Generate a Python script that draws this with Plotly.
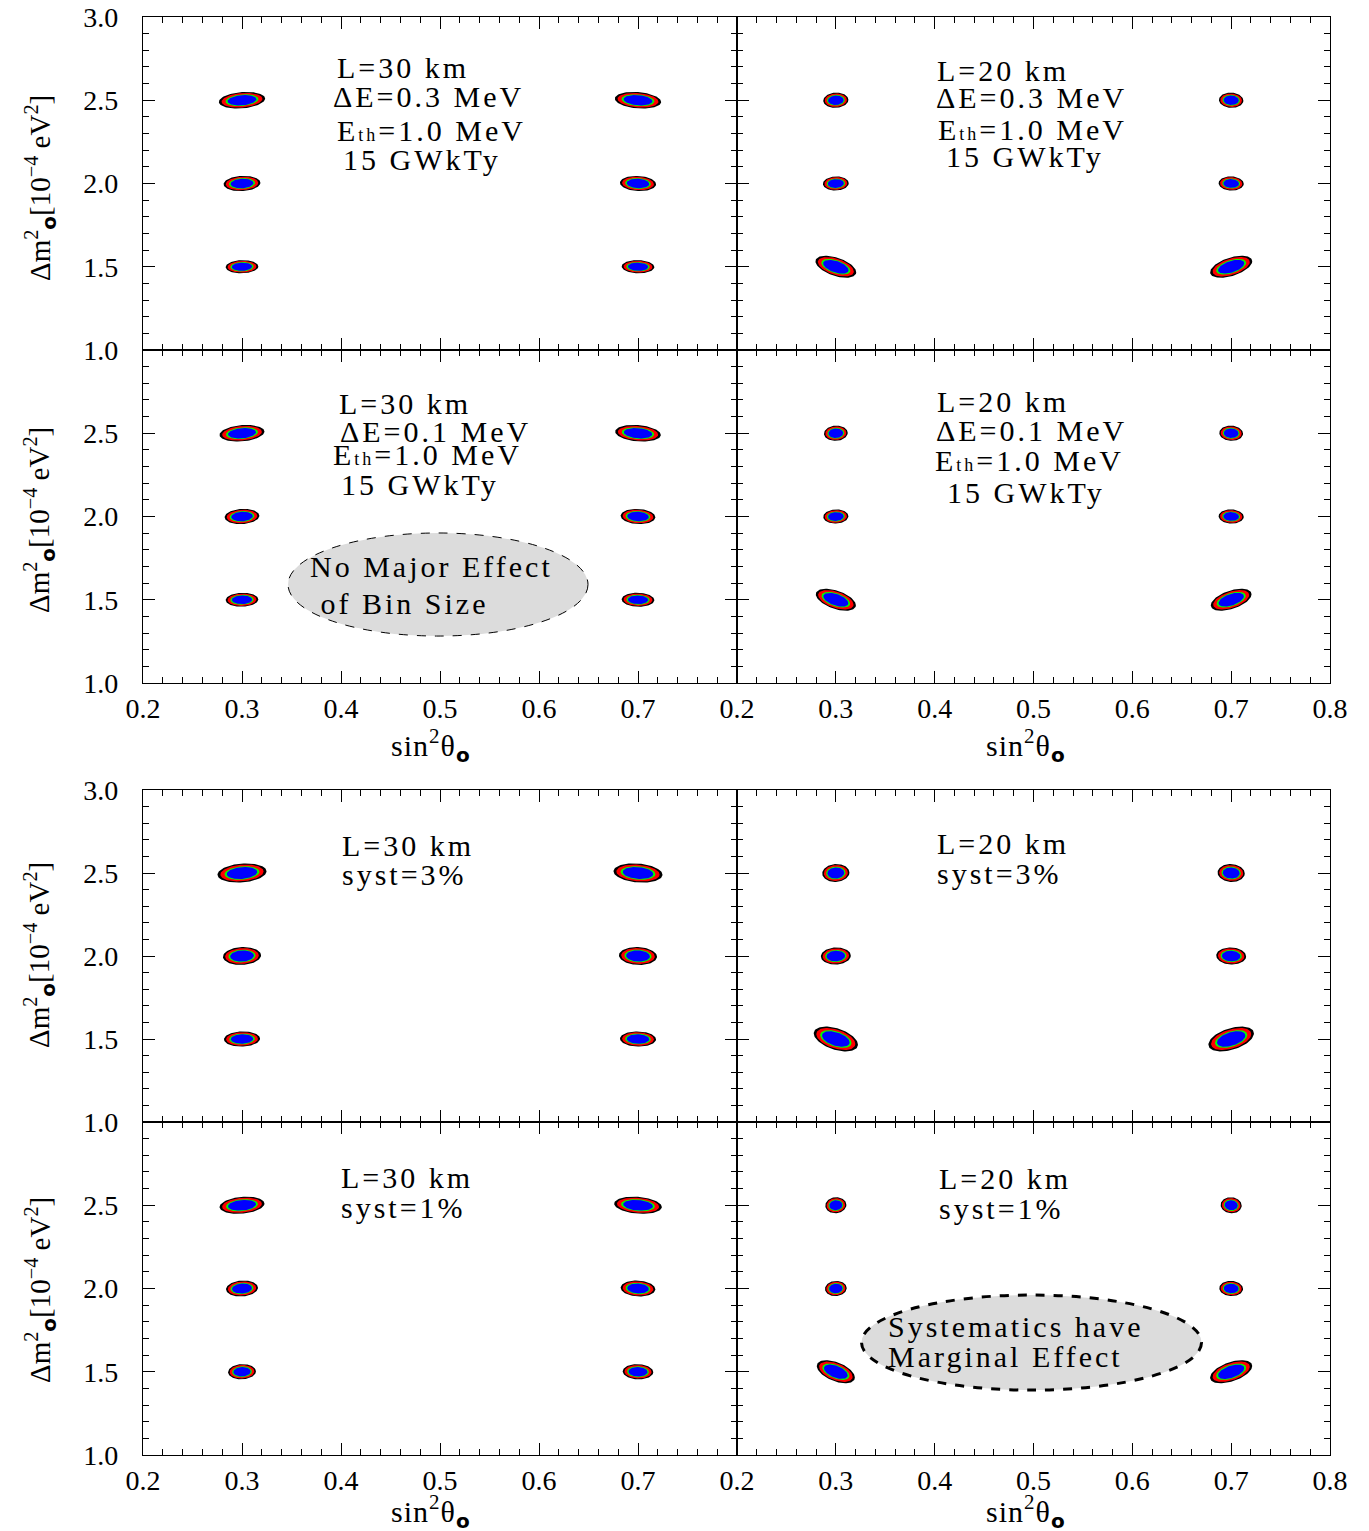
import numpy as np
import plotly.graph_objects as go

# ---------------------------------------------------------------------------
# Data
# ---------------------------------------------------------------------------
# true oscillation points used in the simulated fits
SIN2_TRUE = [0.3, 0.7]
DM2_TRUE = [1.5, 2.0, 2.5]

# 2-parameter Delta chi^2 for 99.73%, 99%, 95%, 90% C.L. (outer -> inner)
DCHI2 = [11.83, 9.21, 5.99, 4.61]
CL_COLORS = ["#000000", "#ff0000", "#00ff00", "#0000ff"]

# 1-sigma errors on sin^2(theta) and dm^2 (1e-4 eV^2) and their correlation
# rows: dm^2 = 1.5, 2.0, 2.5 ; columns: sin^2 = 0.3, 0.7
SX_L30_DE03 = [[0.0048, 0.0048], [0.0054, 0.0053], [0.0068, 0.0068]]
SY_L30_DE03 = [[0.0115, 0.0115], [0.0133, 0.0133], [0.0145, 0.0145]]
RHO_L30_DE03 = [[0.05, -0.05], [0.10, -0.10], [0.20, -0.20]]

SX_L20_DE03 = [[0.0060, 0.0062], [0.0038, 0.0037], [0.0037, 0.0036]]
SY_L20_DE03 = [[0.0192, 0.0192], [0.0124, 0.0124], [0.0133, 0.0133]]
RHO_L20_DE03 = [[-0.50, 0.50], [0.05, -0.05], [0.05, -0.05]]

SX_L30_DE01 = [[0.0048, 0.0048], [0.0051, 0.0051], [0.0066, 0.0067]]
SY_L30_DE01 = [[0.0122, 0.0122], [0.0133, 0.0133], [0.0145, 0.0145]]
RHO_L30_DE01 = [[0.05, -0.05], [0.10, -0.10], [0.20, -0.20]]

SX_L20_DE01 = [[0.0059, 0.0060], [0.0037, 0.0037], [0.0035, 0.0035]]
SY_L20_DE01 = [[0.0192, 0.0192], [0.0124, 0.0124], [0.0133, 0.0133]]
RHO_L20_DE01 = [[-0.50, 0.50], [0.05, -0.05], [0.05, -0.05]]

SX_L30_S3 = [[0.0053, 0.0053], [0.0056, 0.0056], [0.0072, 0.0072]]
SY_L30_S3 = [[0.0133, 0.0133], [0.0157, 0.0157], [0.0168, 0.0168]]
RHO_L30_S3 = [[0.05, -0.05], [0.08, -0.08], [0.18, -0.18]]

SX_L20_S3 = [[0.0065, 0.0067], [0.0044, 0.0044], [0.0040, 0.0040]]
SY_L20_S3 = [[0.0218, 0.0218], [0.0150, 0.0150], [0.0157, 0.0157]]
RHO_L20_S3 = [[-0.45, 0.45], [0.05, -0.05], [0.05, -0.05]]

SX_L30_S1 = [[0.0041, 0.0045], [0.0047, 0.0051], [0.0066, 0.0070]]
SY_L30_S1 = [[0.0133, 0.0133], [0.0140, 0.0140], [0.0150, 0.0150]]
RHO_L30_S1 = [[0.05, -0.05], [0.10, -0.10], [0.20, -0.20]]

SX_L20_S1 = [[0.0056, 0.0062], [0.0032, 0.0035], [0.0031, 0.0031]]
SY_L20_S1 = [[0.0201, 0.0201], [0.0133, 0.0133], [0.0140, 0.0140]]
RHO_L20_S1 = [[-0.50, 0.50], [0.05, -0.05], [0.05, -0.05]]

PANEL_FITS = [
    (SX_L30_DE03, SY_L30_DE03, RHO_L30_DE03),
    (SX_L20_DE03, SY_L20_DE03, RHO_L20_DE03),
    (SX_L30_DE01, SY_L30_DE01, RHO_L30_DE01),
    (SX_L20_DE01, SY_L20_DE01, RHO_L20_DE01),
    (SX_L30_S3, SY_L30_S3, RHO_L30_S3),
    (SX_L20_S3, SY_L20_S3, RHO_L20_S3),
    (SX_L30_S1, SY_L30_S1, RHO_L30_S1),
    (SX_L20_S1, SY_L20_S1, RHO_L20_S1),
]

ETH = 'E<span style="font-size:18px">th</span>=1.0 MeV'
PANEL_LABELS = [
    ["L=30 km", "ΔE=0.3 MeV", ETH, "15 GWkTy"],
    ["L=20 km", "ΔE=0.3 MeV", ETH, "15 GWkTy"],
    ["L=30 km", "ΔE=0.1 MeV", ETH, "15 GWkTy"],
    ["L=20 km", "ΔE=0.1 MeV", ETH, "15 GWkTy"],
    ["L=30 km", "syst=3%"],
    ["L=20 km", "syst=3%"],
    ["L=30 km", "syst=1%"],
    ["L=20 km", "syst=1%"],
]

X_TICKS = [0.2, 0.3, 0.4, 0.5, 0.6, 0.7, 0.8]
Y_TICKS = [1.0, 1.5, 2.0, 2.5, 3.0]

# ---------------------------------------------------------------------------
# Figure geometry
# ---------------------------------------------------------------------------
W, H = 1369, 1531
SERIF = "Liberation Serif"
TXT_STYLE = "letter-spacing:3px"


def px_x(p):
    return p / W


def px_y(p):
    return 1 - p / H


COL_DOMAINS = [[px_x(143), px_x(737)], [px_x(737), px_x(1330)]]
ROW_DOMAINS = [[px_y(350), px_y(17)], [px_y(683), px_y(350)],
               [px_y(1122), px_y(790)], [px_y(1455), px_y(1122)]]

fig = go.Figure()

t = np.linspace(0, 2 * np.pi, 97)
for k, (sx_tab, sy_tab, rho_tab) in enumerate(PANEL_FITS):
    ax = "" if k == 0 else str(k + 1)
    for lvl, col in zip(DCHI2, CL_COLORS):
        r = np.sqrt(lvl)
        xs, ys = [], []
        for i, dm2 in enumerate(DM2_TRUE):
            for j, s2 in enumerate(SIN2_TRUE):
                sx, sy, rho = sx_tab[i][j], sy_tab[i][j], rho_tab[i][j]
                ex = s2 + r * sx * np.cos(t)
                ey = dm2 + r * sy * (rho * np.cos(t) + np.sqrt(1 - rho ** 2) * np.sin(t))
                xs += list(ex) + [None]
                ys += list(ey) + [None]
        fig.add_trace(go.Scatter(
            x=xs, y=ys, mode="lines", fill="toself", fillcolor=col,
            line=dict(width=0, color=col), hoverinfo="skip", showlegend=False,
            xaxis="x" + ax, yaxis="y" + ax,
        ))

layout = {}
for k in range(8):
    row, colm = divmod(k, 2)
    ax = "" if k == 0 else str(k + 1)
    show_x = row in (1, 3)
    show_y = colm == 0
    xtext = [f"{v:.1f}" for v in X_TICKS]
    if colm == 0:
        xtext[-1] = ""
    ytext = [f"{v:.1f}" for v in Y_TICKS]
    if row in (1, 3):
        ytext[-1] = ""
    common = dict(
        showline=True, linecolor="black", linewidth=1.3, mirror="allticks",
        ticks="inside", ticklen=12, tickwidth=1.3, tickcolor="black",
        showgrid=False, zeroline=False, automargin=False,
        tickfont=dict(family=SERIF, size=28, color="black"),
        tickmode="array",
    )
    layout["xaxis" + ax] = dict(
        common, domain=COL_DOMAINS[colm], range=[0.2, 0.8], anchor="y" + ax,
        tickvals=X_TICKS, ticktext=xtext, showticklabels=show_x,
        ticklabelstandoff=0,
        minor=dict(ticks="inside", ticklen=6, tickwidth=1, tickcolor="black",
                   tickmode="array", tickvals=list(np.round(np.arange(0.2, 0.801, 0.02), 2)),
                   showgrid=False),
    )
    layout["yaxis" + ax] = dict(
        common, domain=ROW_DOMAINS[row], range=[1.0, 3.0], anchor="x" + ax,
        tickvals=Y_TICKS, ticktext=ytext, showticklabels=show_y,
        ticklabelstandoff=18,
        minor=dict(ticks="inside", ticklen=6, tickwidth=1, tickcolor="black",
                   tickmode="array", tickvals=list(np.round(np.arange(1.0, 3.001, 0.1), 2)),
                   showgrid=False),
    )

annotations = []

# text block positions (left edge px, centre-line px) per panel
LABEL_POS = [
    [(335, 67), (331, 96), (335, 131), (341, 159)],
    [(935, 70), (934, 98), (936, 129), (944, 157)],
    [(337, 404), (338, 432), (331, 455), (339, 485)],
    [(935, 402), (934, 431), (933, 461), (945, 492)],
    [(340, 845), (340, 874)],
    [(935, 843), (935, 873)],
    [(339, 1177), (339, 1207)],
    [(937, 1178), (937, 1208)],
]
for lines, pos in zip(PANEL_LABELS, LABEL_POS):
    for txt, (px, py) in zip(lines, pos):
        annotations.append(dict(
            text=f'<span style="{TXT_STYLE}">{txt}</span>',
            xref="paper", yref="paper", x=px_x(px), y=px_y(py),
            xanchor="left", yanchor="middle", showarrow=False,
            font=dict(family=SERIF, size=30, color="black"),
        ))

SUB_O = ('<sub><span style="font-family:\'DejaVu Sans\';font-weight:bold;font-size:20px">'
         'o</span></sub>')
XTITLE = '<span style="letter-spacing:1px">sin<sup>2</sup>θ</span>' + SUB_O
YTITLE = 'Δm<sup>2</sup>' + SUB_O + '[10<sup>−4</sup> eV<sup>2</sup>]'
for cx in (430, 1025):
    for cy in (745, 1511):
        annotations.append(dict(
            text=XTITLE, xref="paper", yref="paper", x=px_x(cx), y=px_y(cy),
            xanchor="center", yanchor="middle", showarrow=False,
            font=dict(family=SERIF, size=30, color="black"),
        ))
for cy in (188, 520, 955, 1290):
    annotations.append(dict(
        text=YTITLE, xref="paper", yref="paper", x=px_x(40), y=px_y(cy),
        xanchor="center", yanchor="middle", showarrow=False, textangle=-90,
        font=dict(family=SERIF, size=29, color="black"),
    ))

# call-out ovals
shapes = [
    dict(type="circle", xref="x3", yref="y3", x0=0.3465, x1=0.6495, y0=1.282, y1=1.901,
         fillcolor="#dcdcdc", line=dict(color="black", width=1, dash="dash"), layer="below"),
    dict(type="circle", xref="x8", yref="y8", x0=0.326, x1=0.670, y0=1.390, y1=1.961,
         fillcolor="#dcdcdc", line=dict(color="black", width=3, dash="dash"), layer="below"),
]
annotations += [
    dict(text=f'<span style="{TXT_STYLE}">No Major Effect</span>', xref="paper", yref="paper",
         x=px_x(308), y=px_y(567), xanchor="left", yanchor="middle", showarrow=False,
         font=dict(family=SERIF, size=30, color="black")),
    dict(text=f'<span style="{TXT_STYLE}"> of Bin Size</span>', xref="paper", yref="paper",
         x=px_x(308), y=px_y(603), xanchor="left", yanchor="middle", showarrow=False,
         font=dict(family=SERIF, size=30, color="black")),
    dict(text=f'<span style="{TXT_STYLE}">Systematics have</span>', xref="paper", yref="paper",
         x=px_x(886), y=px_y(1326), xanchor="left", yanchor="middle", showarrow=False,
         font=dict(family=SERIF, size=30, color="black")),
    dict(text=f'<span style="{TXT_STYLE}">Marginal Effect</span>', xref="paper", yref="paper",
         x=px_x(886), y=px_y(1356), xanchor="left", yanchor="middle", showarrow=False,
         font=dict(family=SERIF, size=30, color="black")),
]

fig.update_layout(
    width=W, height=H, margin=dict(l=0, r=0, t=0, b=0, pad=0, autoexpand=False),
    paper_bgcolor="white", plot_bgcolor="white",
    annotations=annotations, shapes=shapes, **layout,
)

fig.write_html("out.html")
